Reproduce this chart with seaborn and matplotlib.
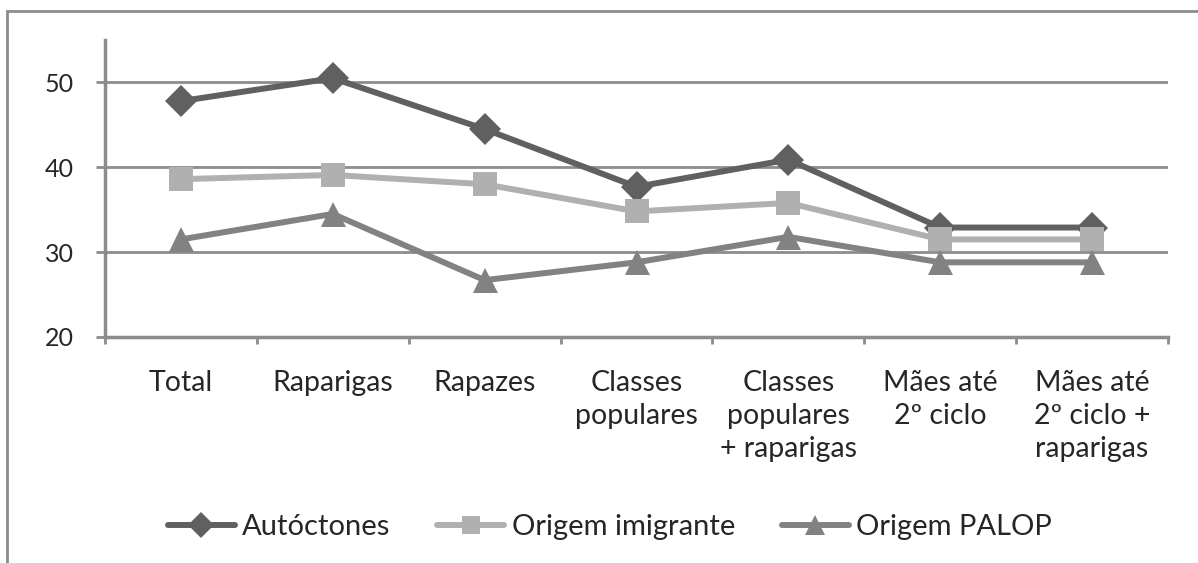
import seaborn as sns
import matplotlib.pyplot as plt
import pandas as pd
from matplotlib.patches import Rectangle
from matplotlib.lines import Line2D

# data
categorias = ["Total", "Raparigas", "Rapazes", "Classes\npopulares",
              "Classes\npopulares\n+ raparigas", "Mães até\n2º ciclo",
              "Mães até\n2º ciclo +\nraparigas"]
autoctones = [47.8, 50.5, 44.5, 37.7, 40.9, 32.9, 32.9]
imigrante = [38.6, 39.1, 38.0, 34.8, 35.8, 31.5, 31.5]
palop = [31.5, 34.5, 26.7, 28.8, 31.8, 28.8, 28.8]
series = ["Autóctones", "Origem imigrante", "Origem PALOP"]
cores = ["#606060", "#b0b0b0", "#828282"]
marcadores = ["D", "s", "^"]
tamanhos = [16, 17, 18]

sns.set_style("white")
plt.rcParams['font.family'] = ['Lato', 'DejaVu Sans']

rows = []
for nome, vals in zip(series, [autoctones, imigrante, palop]):
    for c, v in zip(categorias, vals):
        rows.append({"cat": c, "valor": v, "serie": nome})
df = pd.DataFrame(rows)

fig = plt.figure(figsize=(11.98, 5.63), dpi=100)
ax = fig.add_axes([105/1198, 1-337/563, (1168-105)/1198, (337-40)/563])

gris = "#8c8c8c"
for y in [30, 40, 50]:
    ax.axhline(y, color=gris, lw=2, zorder=0)

for nome, cor, m, ms in zip(series, cores, marcadores, tamanhos):
    sub = df[df.serie == nome]
    sns.lineplot(data=sub, x="cat", y="valor", color=cor, marker=m,
                 markersize=ms, markeredgewidth=0, linewidth=4.3, ax=ax,
                 sort=False, legend=False, zorder=3)

ax.set_xlim(-0.5, 6.5)
ax.set_ylim(20, 55)
ax.set_yticks([20, 30, 40, 50])
ax.set_xticks([i - 0.5 for i in range(8)])
ax.set_xticklabels([])
ax.set_xticks(range(7), minor=True)
ax.set_xticklabels(categorias, minor=True, fontsize=20.5, linespacing=1.33)
ax.tick_params(axis="x", which="major", length=5, width=2, color=gris, direction="out", bottom=True)
ax.tick_params(axis="x", which="minor", length=0, pad=24)
ax.tick_params(axis="y", length=6.5, width=2, color=gris, pad=16, labelsize=18, left=True)
ax.set_xlabel("")
ax.set_ylabel("")
for s in ["top", "right"]:
    ax.spines[s].set_visible(False)
for s in ["left", "bottom"]:
    ax.spines[s].set_color(gris)
    ax.spines[s].set_linewidth(2.5)

# outer frame
fig.patches.append(Rectangle((7/1198, -0.1), 1.2, 1-11/563+0.1, transform=fig.transFigure,
                             fill=False, edgecolor=gris, lw=2))

handles = [Line2D([], [], color=c, marker=m, markersize=ms*0.8, markeredgewidth=0, lw=4.3)
           for c, m, ms in zip(cores, marcadores, tamanhos)]
fig.legend(handles, series, loc="center", bbox_to_anchor=(0.509, 1-527/563), ncol=3,
           frameon=False, fontsize=21, handlelength=2.3, handletextpad=0.25, columnspacing=1.6)

fig.savefig("out.png", dpi=100)
